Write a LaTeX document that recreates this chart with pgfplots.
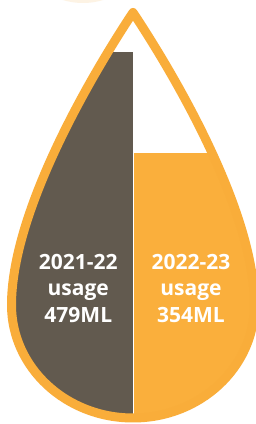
\documentclass[border=0pt]{standalone}
\usepackage{pgfplots}
\pgfplotsset{compat=1.18}
\usepackage{fontspec}
\setmainfont{Open Sans}
\definecolor{darkc}{HTML}{625A4F}
\definecolor{orangec}{HTML}{FAAF3C}
\definecolor{strokec}{HTML}{F9AD3A}
\definecolor{creamc}{HTML}{FDF3E4}
\begin{document}
\begin{tikzpicture}[x=1pt,y=1pt]
\useasboundingbox (0,0) rectangle (256,424);
\begin{axis}[
  at={(0pt,0pt)}, anchor=south west,
  scale only axis, width=256pt, height=424pt,
  hide axis,
  xmin=0, xmax=256, ymin=18.6, ymax=543.4,
  ybar,
]
\addplot[fill=darkc, draw=none, bar width=142.5, bar shift=0pt] coordinates {(61.25,479)};
\addplot[fill=orangec, draw=none, bar width=136.5, bar shift=0pt] coordinates {(201.75,354)};
\node[white, font=\fontsize{21}{26}\selectfont\bfseries, anchor=base] at (axis cs:78.3,210.4) {2021-22};
\node[white, font=\fontsize{21}{26}\selectfont\bfseries, anchor=base] at (axis cs:78.3,177.6) {usage};
\node[white, font=\fontsize{21}{26}\selectfont\bfseries, anchor=base] at (axis cs:78.3,144.8) {479ML};
\node[white, font=\fontsize{21}{26}\selectfont\bfseries, anchor=base] at (axis cs:191,210.4) {2022-23};
\node[white, font=\fontsize{21}{26}\selectfont\bfseries, anchor=base] at (axis cs:191,177.6) {usage};
\node[white, font=\fontsize{21}{26}\selectfont\bfseries, anchor=base] at (axis cs:191,144.8) {354ML};
\end{axis}
% mask outside the drop
\fill[white, even odd rule] (-10,-10) rectangle (270,440)
  (133,411.5) .. controls (85,339) and (11.5,209) .. (11.5,119)
  arc[start angle=180, end angle=360, x radius=121.5, y radius=113]
  .. controls (254.5,209) and (181,339) .. (133,411.5) -- cycle;
% outline of the drop
\draw[strokec, line width=9pt, line join=round]
  (133,411.5) .. controls (85,339) and (11.5,209) .. (11.5,119)
  arc[start angle=180, end angle=360, x radius=121.5, y radius=113]
  .. controls (254.5,209) and (181,339) .. (133,411.5) -- cycle;
% faint circle at the top
\fill[creamc] (83,489) circle[radius=68];
\end{tikzpicture}
\end{document}
